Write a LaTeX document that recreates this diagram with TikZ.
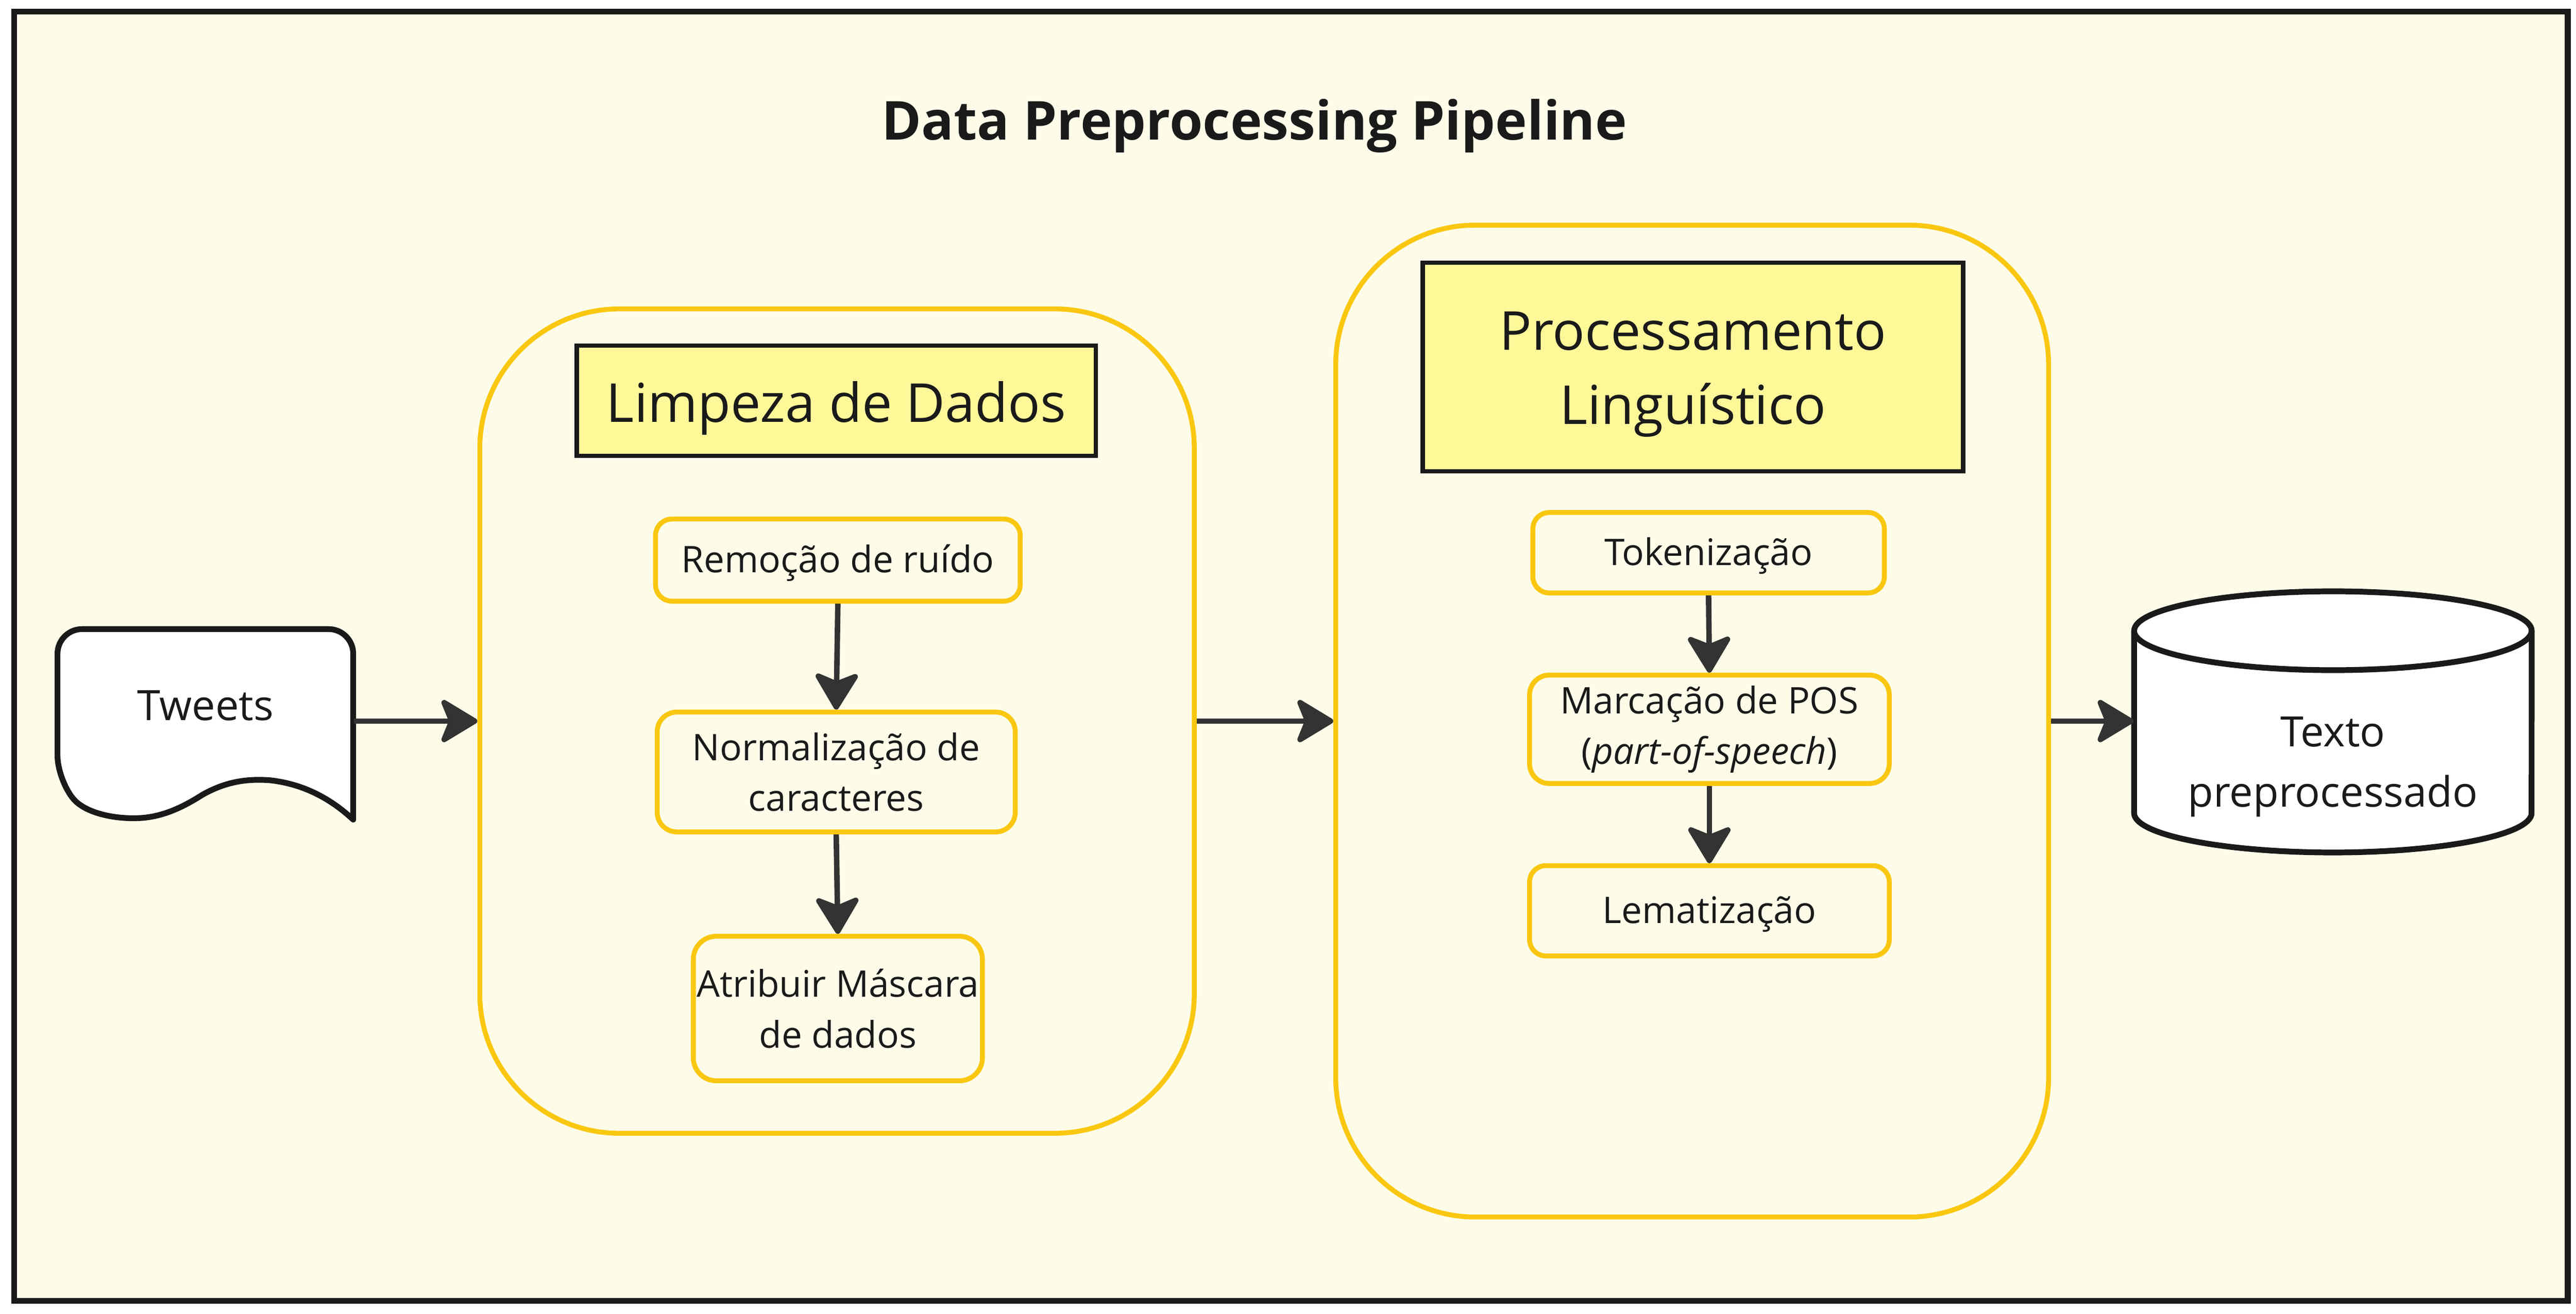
\documentclass[tikz,border=0pt]{standalone}
\usepackage{fontspec}
\setmainfont{Open Sans}
\usepackage{tikz}
\usetikzlibrary{arrows.meta}
\usetikzlibrary{positioning}

\definecolor{bgcream}{HTML}{FDFCE9}
\definecolor{hdrfill}{HTML}{FFF899}
\definecolor{miroyellow}{HTML}{FAC710}
\definecolor{inkblack}{HTML}{1A1A1A}
\definecolor{arrowgray}{HTML}{333333}

\begin{document}
\begin{tikzpicture}[x=0.02cm, y=-0.02cm,
    txt/.style = {text=inkblack, inner sep=0pt, align=center},
    groupbox/.style = {draw=miroyellow, line width=1.7pt, rounded corners=1.7cm},
    headbox/.style = {txt, draw=inkblack, fill=hdrfill, line width=1.5pt,
        font=\fontsize{18.6}{25.8}\selectfont},
    stepbox/.style = {txt, draw=miroyellow, fill=bgcream, line width=1.7pt,
        rounded corners=0.2cm, font=\fontsize{12.7}{17.6}\selectfont},
    oneline/.style = {text height=#1, text depth=0pt},
    flow/.style = {draw=arrowgray, line width=1.9pt,
        -{Stealth[length=0.5cm, width=0.6cm, inset=0.12cm, round]}},
    shapeline/.style = {draw=inkblack, fill=white, line width=2pt, line join=round}
    ]
    \useasboundingbox (0,0) rectangle (1568,799.8);
    \fill[white] (0,0) rectangle (1568,799.8);
    \filldraw[fill=bgcream, draw=inkblack, line width=2.05pt] (8.7,7) rectangle (1563,792);

    \node[txt, anchor=base, font=\fontsize{18.6}{24}\selectfont\bfseries] (title)
        at (763.5,85) {Data Preprocessing Pipeline};

    % tweets document
    \draw[shapeline, rounded corners=0.3cm] (215,499) -- (215,383) -- (35,383) -- (35,475)
        [sharp corners] .. controls (52,495) and (70,499) .. (86,498)
        .. controls (100,497) and (112,491) .. (123,484)
        .. controls (137,476) and (150,474) .. (164,475)
        .. controls (183,477) and (200,485) .. cycle;
    \node[txt, font=\fontsize{14.5}{20}\selectfont, minimum width=3.6cm] (tw)
        at (125,429.5) {Tweets};

    % output database
    \draw[shapeline] (1299,384) -- (1299,495)
        arc[start angle=180, end angle=360, x radius=2.42cm, y radius=0.48cm]
        -- (1541,384)
        arc[start angle=0, end angle=180, x radius=2.42cm, y radius=0.48cm] -- cycle;
    \draw[shapeline, fill=none] (1299,384)
        arc[start angle=180, end angle=360, x radius=2.42cm, y radius=0.48cm];
    \node[txt, font=\fontsize{14.5}{20.9}\selectfont, minimum width=4.84cm] (db)
        at (1420,467) {Texto\\preprocessado};

    % groups
    \node[groupbox, minimum width=8.7cm, minimum height=10.04cm] (clean) at (509.5,439) {};
    \node[groupbox, minimum width=8.68cm, minimum height=12.08cm] (ling) at (1030,439) {};

    \node[headbox, oneline=14.8pt, minimum width=6.32cm, minimum height=1.34cm] (cleanhead)
        at (509,244) {Limpeza de Dados};
    \node[headbox, minimum width=6.58cm, minimum height=2.54cm] (linghead)
        at (1030.5,223.5) {\rule{0pt}{18.3pt}Processamento\\Linguístico};

    \node[stepbox, oneline=8.7pt, minimum width=4.44cm, minimum height=1.0cm] (noise)
        at (510,341) {Remoção de ruído};
    \node[stepbox, minimum width=4.36cm, minimum height=1.46cm, rounded corners=0.24cm] (norm)
        at (509,470) {Normalização de\\caracteres};
    \node[stepbox, minimum width=3.52cm, minimum height=1.76cm, rounded corners=0.28cm] (mask)
        at (510,614) {Atribuir Máscara\\de dados};

    \node[stepbox, oneline=8.7pt, minimum width=4.28cm, minimum height=0.98cm] (token)
        at (1040,336.5) {Tokenização};
    \node[stepbox, minimum width=4.38cm, minimum height=1.32cm, rounded corners=0.24cm] (pos)
        at (1040.5,444) {Marcação de POS\\(\textit{part-of-speech})};
    \node[stepbox, oneline=8.7pt, minimum width=4.38cm, minimum height=1.10cm] (lemma)
        at (1040.5,554.5) {Lematização};

    \draw[flow] (noise.south) -- (norm.north);
    \draw[flow] (norm.south) -- (mask.north);
    \draw[flow] (token.south) -- (pos.north);
    \draw[flow] (pos.south) -- (lemma.north);

    \draw[flow] (tw.east |- clean.west) -- (clean.west);
    \draw[flow] (clean.east) -- (ling.west);
    \draw[flow] (ling.east) -- (ling.east -| db.west);
\end{tikzpicture}
\end{document}
